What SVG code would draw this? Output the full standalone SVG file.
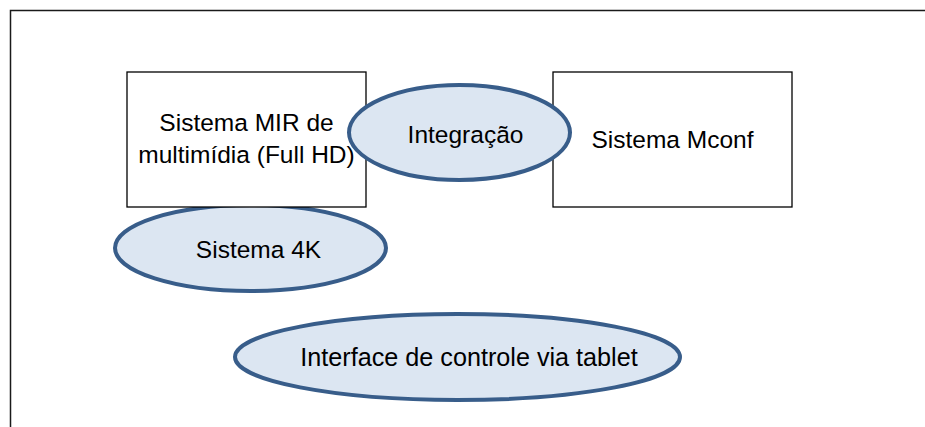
<svg xmlns="http://www.w3.org/2000/svg" width="925" height="427" viewBox="0 0 925 427">
<style>
.frame{fill:none;stroke:#1a1a1a;stroke-width:1.5}
.box{fill:#ffffff;stroke:#000000;stroke-width:1.3}
.ell{fill:#dce6f2;stroke:#385d8a;stroke-width:4}
.t{font-family:"Liberation Sans",Arial,sans-serif;font-size:24.5px;fill:#000000;text-anchor:middle}
</style>
<rect width="925" height="427" fill="#ffffff"/>
<path class="frame" d="M10.5,440 V10.5 H940"/>
<g id="connectors"/>
<g id="sistema4k">
<ellipse class="ell" cx="250.5" cy="248" rx="135.5" ry="43"/>
<text class="t" x="258.5" y="258">Sistema 4K</text>
</g>
<g id="sistemaMIR">
<rect class="box" x="127" y="72" width="239" height="135"/>
<text class="t" x="246.5" y="131">Sistema MIR de</text>
<text class="t" x="246.5" y="163">multimídia (Full HD)</text>
</g>
<g id="sistemaMconf">
<rect class="box" x="553" y="72" width="239" height="135"/>
<text class="t" x="672.5" y="148">Sistema Mconf</text>
</g>
<g id="integracao">
<ellipse class="ell" cx="459.5" cy="132.5" rx="110.5" ry="47.5"/>
<text class="t" x="465.5" y="143">Integração</text>
</g>
<g id="interface">
<ellipse class="ell" cx="457.5" cy="357" rx="222.5" ry="43"/>
<text class="t" x="469" y="366" style="font-size:25.2px">Interface de controle via tablet</text>
</g>
</svg>
